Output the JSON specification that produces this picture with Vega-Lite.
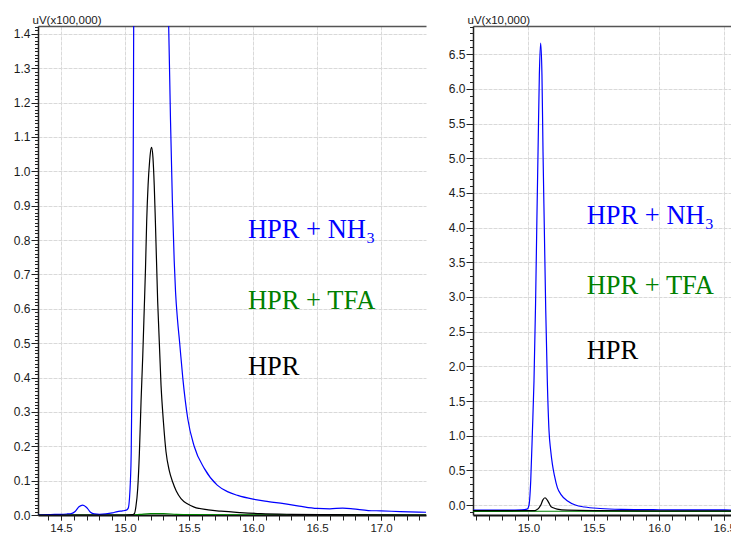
{
 "$schema": "https://vega.github.io/schema/vega-lite/v6.json",
 "padding": {"left": 13, "top": 14, "right": 0, "bottom": 0},
 "spacing": 22,
 "config": {
  "view": {"stroke": null},
  "axis": {"labelFont": "Liberation Sans", "labelFontSize": 12, "labelColor": "#1a1a1a", "titleFont": "Liberation Sans", "titleFontSize": 11.5, "titleFontWeight": "normal", "titleColor": "#1a1a1a", "tickColor": "#222", "domainColor": "#222", "gridColor": "#d9d9d9", "gridDash": [4, 1], "gridWidth": 1}
 },
 "datasets": {
  "left": [
   {"t": 14.32, "v": 0, "s": "HPR + TFA"}, {"t": 15.05, "v": 0, "s": "HPR + TFA"}, {"t": 15.12, "v": 0.002, "s": "HPR + TFA"}, {"t": 15.2, "v": 0.004, "s": "HPR + TFA"}, {"t": 15.3, "v": 0.004, "s": "HPR + TFA"}, {"t": 15.4, "v": 0.002, "s": "HPR + TFA"}, {"t": 15.5, "v": 0.001, "s": "HPR + TFA"}, {"t": 16.0, "v": 0.0005, "s": "HPR + TFA"}, {"t": 17.351, "v": 0, "s": "HPR + TFA"},
   {"t": 14.32, "v": 0.0, "s": "HPR + NH3"}, {"t": 14.4, "v": 0.001, "s": "HPR + NH3"}, {"t": 14.45, "v": 0.002, "s": "HPR + NH3"}, {"t": 14.5, "v": 0.002, "s": "HPR + NH3"}, {"t": 14.55, "v": 0.003, "s": "HPR + NH3"}, {"t": 14.58, "v": 0.004, "s": "HPR + NH3"}, {"t": 14.61, "v": 0.01, "s": "HPR + NH3"}, {"t": 14.64, "v": 0.024, "s": "HPR + NH3"}, {"t": 14.67, "v": 0.029, "s": "HPR + NH3"}, {"t": 14.7, "v": 0.022, "s": "HPR + NH3"}, {"t": 14.73, "v": 0.008, "s": "HPR + NH3"}, {"t": 14.76, "v": 0.003, "s": "HPR + NH3"}, {"t": 14.8, "v": 0.002, "s": "HPR + NH3"}, {"t": 14.85, "v": 0.003, "s": "HPR + NH3"}, {"t": 14.9, "v": 0.006, "s": "HPR + NH3"}, {"t": 14.94, "v": 0.01, "s": "HPR + NH3"}, {"t": 14.98, "v": 0.012, "s": "HPR + NH3"}, {"t": 15.01, "v": 0.014, "s": "HPR + NH3"}, {"t": 15.025, "v": 0.02, "s": "HPR + NH3"}, {"t": 15.035, "v": 0.05, "s": "HPR + NH3"}, {"t": 15.042, "v": 0.1, "s": "HPR + NH3"}, {"t": 15.048, "v": 0.18, "s": "HPR + NH3"}, {"t": 15.053, "v": 0.35, "s": "HPR + NH3"}, {"t": 15.058, "v": 0.6, "s": "HPR + NH3"}, {"t": 15.063, "v": 0.95, "s": "HPR + NH3"}, {"t": 15.066, "v": 1.25, "s": "HPR + NH3"}, {"t": 15.069, "v": 1.6, "s": "HPR + NH3"}, {"t": 15.08, "v": 2.2, "s": "HPR + NH3"}, {"t": 15.1, "v": 2.7, "s": "HPR + NH3"}, {"t": 15.13, "v": 2.9, "s": "HPR + NH3"}, {"t": 15.17, "v": 2.8, "s": "HPR + NH3"}, {"t": 15.22, "v": 2.4, "s": "HPR + NH3"}, {"t": 15.28, "v": 1.9, "s": "HPR + NH3"}, {"t": 15.32, "v": 1.6, "s": "HPR + NH3"}, {"t": 15.341, "v": 1.42, "s": "HPR + NH3"}, {"t": 15.355, "v": 1.15, "s": "HPR + NH3"}, {"t": 15.37, "v": 0.91, "s": "HPR + NH3"}, {"t": 15.384, "v": 0.74, "s": "HPR + NH3"}, {"t": 15.3945, "v": 0.649, "s": "HPR + NH3"}, {"t": 15.41, "v": 0.5675, "s": "HPR + NH3"}, {"t": 15.426, "v": 0.5035, "s": "HPR + NH3"}, {"t": 15.451, "v": 0.399, "s": "HPR + NH3"}, {"t": 15.49, "v": 0.28, "s": "HPR + NH3"}, {"t": 15.54, "v": 0.2, "s": "HPR + NH3"}, {"t": 15.62, "v": 0.135, "s": "HPR + NH3"}, {"t": 15.72, "v": 0.087, "s": "HPR + NH3"}, {"t": 15.8, "v": 0.068, "s": "HPR + NH3"}, {"t": 15.88, "v": 0.057, "s": "HPR + NH3"}, {"t": 16.0, "v": 0.046, "s": "HPR + NH3"}, {"t": 16.12, "v": 0.039, "s": "HPR + NH3"}, {"t": 16.24, "v": 0.033, "s": "HPR + NH3"}, {"t": 16.36, "v": 0.026, "s": "HPR + NH3"}, {"t": 16.5, "v": 0.019, "s": "HPR + NH3"}, {"t": 16.6, "v": 0.018, "s": "HPR + NH3"}, {"t": 16.7, "v": 0.02, "s": "HPR + NH3"}, {"t": 16.78, "v": 0.018, "s": "HPR + NH3"}, {"t": 16.9, "v": 0.013, "s": "HPR + NH3"}, {"t": 17.0, "v": 0.012, "s": "HPR + NH3"}, {"t": 17.15, "v": 0.01, "s": "HPR + NH3"}, {"t": 17.351, "v": 0.008, "s": "HPR + NH3"},
   {"t": 14.32, "v": 0, "s": "HPR"}, {"t": 15.0, "v": 0, "s": "HPR"}, {"t": 15.06, "v": 0.001, "s": "HPR"}, {"t": 15.073, "v": 0.004, "s": "HPR"}, {"t": 15.085, "v": 0.025, "s": "HPR"}, {"t": 15.099, "v": 0.077, "s": "HPR"}, {"t": 15.112, "v": 0.18, "s": "HPR"}, {"t": 15.125, "v": 0.33, "s": "HPR"}, {"t": 15.138, "v": 0.46, "s": "HPR"}, {"t": 15.15, "v": 0.6, "s": "HPR"}, {"t": 15.16, "v": 0.72, "s": "HPR"}, {"t": 15.169, "v": 0.854, "s": "HPR"}, {"t": 15.18, "v": 0.96, "s": "HPR"}, {"t": 15.192, "v": 1.03, "s": "HPR"}, {"t": 15.2, "v": 1.06, "s": "HPR"}, {"t": 15.208, "v": 1.07, "s": "HPR"}, {"t": 15.218, "v": 1.04, "s": "HPR"}, {"t": 15.228, "v": 0.96, "s": "HPR"}, {"t": 15.237, "v": 0.854, "s": "HPR"}, {"t": 15.255, "v": 0.62, "s": "HPR"}, {"t": 15.281, "v": 0.378, "s": "HPR"}, {"t": 15.3, "v": 0.27, "s": "HPR"}, {"t": 15.32, "v": 0.184, "s": "HPR"}, {"t": 15.345, "v": 0.13, "s": "HPR"}, {"t": 15.372, "v": 0.096, "s": "HPR"}, {"t": 15.4, "v": 0.07, "s": "HPR"}, {"t": 15.437, "v": 0.048, "s": "HPR"}, {"t": 15.49, "v": 0.032, "s": "HPR"}, {"t": 15.54, "v": 0.023, "s": "HPR"}, {"t": 15.65, "v": 0.015, "s": "HPR"}, {"t": 15.75, "v": 0.011, "s": "HPR"}, {"t": 15.9, "v": 0.007, "s": "HPR"}, {"t": 16.06, "v": 0.004, "s": "HPR"}, {"t": 16.3, "v": 0.002, "s": "HPR"}, {"t": 16.6, "v": 0.001, "s": "HPR"}, {"t": 17.351, "v": 0, "s": "HPR"}
  ],
  "right": [
   {"t": 14.576, "v": -0.093, "s": "HPR + TFA"}, {"t": 15.1, "v": -0.09, "s": "HPR + TFA"}, {"t": 15.2, "v": -0.09, "s": "HPR + TFA"}, {"t": 16.559, "v": -0.093, "s": "HPR + TFA"},
   {"t": 14.576, "v": -0.075, "s": "HPR + NH3"}, {"t": 14.8, "v": -0.075, "s": "HPR + NH3"}, {"t": 14.95, "v": -0.07, "s": "HPR + NH3"}, {"t": 14.99, "v": -0.06, "s": "HPR + NH3"}, {"t": 15.005, "v": 0.0, "s": "HPR + NH3"}, {"t": 15.018, "v": 0.35, "s": "HPR + NH3"}, {"t": 15.031, "v": 1.07, "s": "HPR + NH3"}, {"t": 15.043, "v": 1.79, "s": "HPR + NH3"}, {"t": 15.055, "v": 2.9, "s": "HPR + NH3"}, {"t": 15.065, "v": 4.1, "s": "HPR + NH3"}, {"t": 15.074, "v": 5.1, "s": "HPR + NH3"}, {"t": 15.084, "v": 6.2, "s": "HPR + NH3"}, {"t": 15.094, "v": 6.66, "s": "HPR + NH3"}, {"t": 15.104, "v": 6.2, "s": "HPR + NH3"}, {"t": 15.112, "v": 5.1, "s": "HPR + NH3"}, {"t": 15.122, "v": 4.0, "s": "HPR + NH3"}, {"t": 15.133, "v": 2.8, "s": "HPR + NH3"}, {"t": 15.145, "v": 1.79, "s": "HPR + NH3"}, {"t": 15.158, "v": 1.07, "s": "HPR + NH3"}, {"t": 15.17, "v": 0.8, "s": "HPR + NH3"}, {"t": 15.184, "v": 0.586, "s": "HPR + NH3"}, {"t": 15.2, "v": 0.42, "s": "HPR + NH3"}, {"t": 15.222, "v": 0.25, "s": "HPR + NH3"}, {"t": 15.25, "v": 0.15, "s": "HPR + NH3"}, {"t": 15.3, "v": 0.058, "s": "HPR + NH3"}, {"t": 15.36, "v": 0.0, "s": "HPR + NH3"}, {"t": 15.43, "v": -0.029, "s": "HPR + NH3"}, {"t": 15.55, "v": -0.05, "s": "HPR + NH3"}, {"t": 15.71, "v": -0.062, "s": "HPR + NH3"}, {"t": 16.0, "v": -0.068, "s": "HPR + NH3"}, {"t": 16.3, "v": -0.07, "s": "HPR + NH3"}, {"t": 16.559, "v": -0.072, "s": "HPR + NH3"},
   {"t": 14.576, "v": -0.08, "s": "HPR"}, {"t": 15.04, "v": -0.08, "s": "HPR"}, {"t": 15.056, "v": -0.077, "s": "HPR"}, {"t": 15.07, "v": -0.06, "s": "HPR"}, {"t": 15.081, "v": -0.04, "s": "HPR"}, {"t": 15.095, "v": 0.0, "s": "HPR"}, {"t": 15.11, "v": 0.07, "s": "HPR"}, {"t": 15.127, "v": 0.105, "s": "HPR"}, {"t": 15.145, "v": 0.07, "s": "HPR"}, {"t": 15.16, "v": 0.02, "s": "HPR"}, {"t": 15.17, "v": -0.015, "s": "HPR"}, {"t": 15.19, "v": -0.04, "s": "HPR"}, {"t": 15.22, "v": -0.06, "s": "HPR"}, {"t": 15.3, "v": -0.075, "s": "HPR"}, {"t": 15.5, "v": -0.082, "s": "HPR"}, {"t": 16.559, "v": -0.085, "s": "HPR"}
  ],
  "labelsLeft": [
   {"t": 15.96, "v": 0.805, "s": "HPR + NH3", "label": "HPR + NH₃"},
   {"t": 15.96, "v": 0.6, "s": "HPR + TFA", "label": "HPR + TFA"},
   {"t": 15.96, "v": 0.408, "s": "HPR", "label": "HPR"}
  ],
  "labelsRight": [
   {"t": 15.446, "v": 4.05, "s": "HPR + NH3", "label": "HPR + NH₃"},
   {"t": 15.446, "v": 3.05, "s": "HPR + TFA", "label": "HPR + TFA"},
   {"t": 15.446, "v": 2.1, "s": "HPR", "label": "HPR"}
  ]
 },
 "hconcat": [
  {
   "width": 388, "height": 489,
   "resolve": {"axis": {"x": "independent", "y": "independent"}},
   "layer": [
    {
     "data": {"name": "left"},
     "mark": {"type": "line", "clip": true, "strokeWidth": 1.2, "interpolate": "monotone"},
     "encoding": {
      "x": {"field": "t", "type": "quantitative", "scale": {"domain": [14.32, 17.351], "nice": false, "zero": false},
            "axis": {"orient": "bottom", "values": [14.5, 15, 15.5, 16, 16.5, 17], "format": ".1f", "title": null, "tickSize": 5, "labelPadding": 2, "labelFontSize": 11.5, "domainWidth": 2, "domainColor": "#111", "grid": true}},
      "y": {"field": "v", "type": "quantitative", "scale": {"domain": [0, 1.423], "nice": false, "zero": false},
            "axis": {"orient": "left", "values": [0, 0.1, 0.2, 0.3, 0.4, 0.5, 0.6, 0.7, 0.8, 0.9, 1.0, 1.1, 1.2, 1.3, 1.4], "format": ".1f", "title": "uV(x100,000)", "titleAngle": 0, "titleAlign": "left", "titleBaseline": "alphabetic", "titleX": -6, "titleY": -3, "tickSize": 7, "labelPadding": 1, "domainWidth": 1.5, "grid": true}},
      "color": {"field": "s", "type": "nominal", "scale": {"domain": ["HPR + TFA", "HPR + NH3", "HPR"], "range": ["#008000", "#0000ff", "#000000"]}, "legend": null}
     }
    },
    {
     "data": {"name": "labelsLeft"},
     "mark": {"type": "text", "align": "left", "baseline": "alphabetic", "fontSize": 26.5, "font": "Liberation Serif"},
     "encoding": {
      "x": {"field": "t", "type": "quantitative", "scale": {"domain": [14.32, 17.351], "nice": false, "zero": false},
            "axis": {"orient": "bottom", "values": [14.4, 14.5, 14.6, 14.7, 14.8, 14.9, 15.0, 15.1, 15.2, 15.3, 15.4, 15.5, 15.6, 15.7, 15.8, 15.9, 16.0, 16.1, 16.2, 16.3, 16.4, 16.5, 16.6, 16.7, 16.8, 16.9, 17.0, 17.1, 17.2, 17.3], "labels": false, "grid": false, "domain": false, "tickSize": 5, "title": null}},
      "y": {"field": "v", "type": "quantitative", "scale": {"domain": [0, 1.423], "nice": false, "zero": false},
            "axis": {"orient": "left", "values": [0, 0.01, 0.02, 0.03, 0.04, 0.05, 0.06, 0.07, 0.08, 0.09, 0.1, 0.11, 0.12, 0.13, 0.14, 0.15, 0.16, 0.17, 0.18, 0.19, 0.2, 0.21, 0.22, 0.23, 0.24, 0.25, 0.26, 0.27, 0.28, 0.29, 0.3, 0.31, 0.32, 0.33, 0.34, 0.35, 0.36, 0.37, 0.38, 0.39, 0.4, 0.41, 0.42, 0.43, 0.44, 0.45, 0.46, 0.47, 0.48, 0.49, 0.5, 0.51, 0.52, 0.53, 0.54, 0.55, 0.56, 0.57, 0.58, 0.59, 0.6, 0.61, 0.62, 0.63, 0.64, 0.65, 0.66, 0.67, 0.68, 0.69, 0.7, 0.71, 0.72, 0.73, 0.74, 0.75, 0.76, 0.77, 0.78, 0.79, 0.8, 0.81, 0.82, 0.83, 0.84, 0.85, 0.86, 0.87, 0.88, 0.89, 0.9, 0.91, 0.92, 0.93, 0.94, 0.95, 0.96, 0.97, 0.98, 0.99, 1.0, 1.01, 1.02, 1.03, 1.04, 1.05, 1.06, 1.07, 1.08, 1.09, 1.1, 1.11, 1.12, 1.13, 1.14, 1.15, 1.16, 1.17, 1.18, 1.19, 1.2, 1.21, 1.22, 1.23, 1.24, 1.25, 1.26, 1.27, 1.28, 1.29, 1.3, 1.31, 1.32, 1.33, 1.34, 1.35, 1.36, 1.37, 1.38, 1.39, 1.4, 1.41, 1.42], "labels": false, "grid": false, "domain": false, "tickSize": 3.5, "title": null}},
      "text": {"field": "label"},
      "color": {"field": "s", "type": "nominal", "scale": {"domain": ["HPR + TFA", "HPR + NH3", "HPR"], "range": ["#008000", "#0000ff", "#000000"]}, "legend": null}
     }
    },
    {
     "data": {"values": []},
     "mark": {"type": "rule"},
     "encoding": {
      "x": {"field": "t", "type": "quantitative", "scale": {"domain": [14.32, 17.351], "nice": false, "zero": false},
            "axis": {"orient": "top", "labels": false, "ticks": false, "grid": false, "title": null, "domainColor": "#555", "domainWidth": 1.5}}
     }
    }
   ]
  },
  {
   "width": 259, "height": 489,
   "resolve": {"axis": {"x": "independent", "y": "independent"}},
   "layer": [
    {
     "data": {"name": "right"},
     "mark": {"type": "line", "clip": true, "strokeWidth": 1.2, "interpolate": "monotone"},
     "encoding": {
      "x": {"field": "t", "type": "quantitative", "scale": {"domain": [14.576, 16.559], "nice": false, "zero": false},
            "axis": {"orient": "bottom", "values": [15, 15.5, 16, 16.5], "format": ".1f", "title": null, "tickSize": 5, "labelPadding": 2, "labelFontSize": 11.5, "domainWidth": 2, "domainColor": "#111", "grid": true}},
      "y": {"field": "v", "type": "quantitative", "scale": {"domain": [-0.144, 6.908], "nice": false, "zero": false},
            "axis": {"orient": "left", "values": [0, 0.5, 1.0, 1.5, 2.0, 2.5, 3.0, 3.5, 4.0, 4.5, 5.0, 5.5, 6.0, 6.5], "format": ".1f", "title": "uV(x10,000)", "titleAngle": 0, "titleAlign": "left", "titleBaseline": "alphabetic", "titleX": -6, "titleY": -3, "tickSize": 7, "labelPadding": 1, "domainWidth": 1.5, "grid": true}},
      "color": {"field": "s", "type": "nominal", "scale": {"domain": ["HPR + TFA", "HPR + NH3", "HPR"], "range": ["#008000", "#0000ff", "#000000"]}, "legend": null}
     }
    },
    {
     "data": {"name": "labelsRight"},
     "mark": {"type": "text", "align": "left", "baseline": "alphabetic", "fontSize": 26.5, "font": "Liberation Serif"},
     "encoding": {
      "x": {"field": "t", "type": "quantitative", "scale": {"domain": [14.576, 16.559], "nice": false, "zero": false},
            "axis": {"orient": "bottom", "values": [14.6, 14.7, 14.8, 14.9, 15.0, 15.1, 15.2, 15.3, 15.4, 15.5, 15.6, 15.7, 15.8, 15.9, 16.0, 16.1, 16.2, 16.3, 16.4, 16.5], "labels": false, "grid": false, "domain": false, "tickSize": 5, "title": null}},
      "y": {"field": "v", "type": "quantitative", "scale": {"domain": [-0.144, 6.908], "nice": false, "zero": false},
            "axis": {"orient": "left", "values": [-0.1, 0, 0.1, 0.2, 0.3, 0.4, 0.5, 0.6, 0.7, 0.8, 0.9, 1.0, 1.1, 1.2, 1.3, 1.4, 1.5, 1.6, 1.7, 1.8, 1.9, 2.0, 2.1, 2.2, 2.3, 2.4, 2.5, 2.6, 2.7, 2.8, 2.9, 3.0, 3.1, 3.2, 3.3, 3.4, 3.5, 3.6, 3.7, 3.8, 3.9, 4.0, 4.1, 4.2, 4.3, 4.4, 4.5, 4.6, 4.7, 4.8, 4.9, 5.0, 5.1, 5.2, 5.3, 5.4, 5.5, 5.6, 5.7, 5.8, 5.9, 6.0, 6.1, 6.2, 6.3, 6.4, 6.5, 6.6, 6.7, 6.8, 6.9], "labels": false, "grid": false, "domain": false, "tickSize": 3.5, "title": null}},
      "text": {"field": "label"},
      "color": {"field": "s", "type": "nominal", "scale": {"domain": ["HPR + TFA", "HPR + NH3", "HPR"], "range": ["#008000", "#0000ff", "#000000"]}, "legend": null}
     }
    },
    {
     "data": {"values": []},
     "mark": {"type": "rule"},
     "encoding": {
      "x": {"field": "t", "type": "quantitative", "scale": {"domain": [14.576, 16.559], "nice": false, "zero": false},
            "axis": {"orient": "top", "labels": false, "ticks": false, "grid": false, "title": null, "domainColor": "#555", "domainWidth": 1.5}}
     }
    }
   ]
  }
 ]
}
